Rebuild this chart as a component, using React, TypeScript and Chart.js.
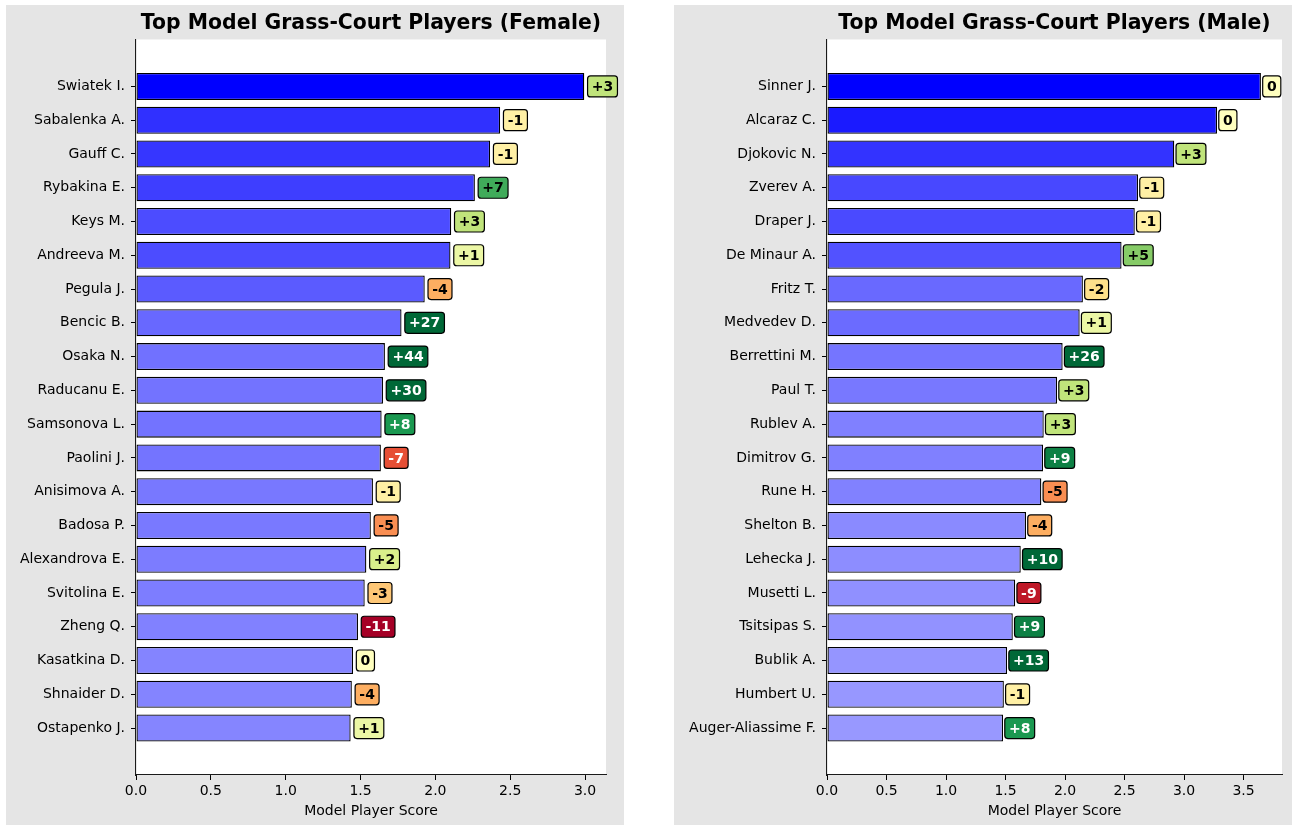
import React, { useEffect, useRef } from "react";
import { Chart, registerables } from "chart.js";

Chart.register(...registerables);

const FONT = '"DejaVu Sans", "Liberation Sans", sans-serif';

// ---------- data ----------
const FEMALE_PLAYERS = [
  "Swiatek I.", "Sabalenka A.", "Gauff C.", "Rybakina E.", "Keys M.",
  "Andreeva M.", "Pegula J.", "Bencic B.", "Osaka N.", "Raducanu E.",
  "Samsonova L.", "Paolini J.", "Anisimova A.", "Badosa P.", "Alexandrova E.",
  "Svitolina E.", "Zheng Q.", "Kasatkina D.", "Shnaider D.", "Ostapenko J.",
];
const FEMALE_SCORES = [
  2.995, 2.433, 2.366, 2.264, 2.106,
  2.101, 1.929, 1.774, 1.663, 1.650,
  1.641, 1.636, 1.583, 1.569, 1.539,
  1.528, 1.483, 1.450, 1.442, 1.434,
];
const FEMALE_CHANGES = [3, -1, -1, 7, 3, 1, -4, 27, 44, 30, 8, -7, -1, -5, 2, -3, -11, 0, -4, 1];

const MALE_PLAYERS = [
  "Sinner J.", "Alcaraz C.", "Djokovic N.", "Zverev A.", "Draper J.",
  "De Minaur A.", "Fritz T.", "Medvedev D.", "Berrettini M.", "Paul T.",
  "Rublev A.", "Dimitrov G.", "Rune H.", "Shelton B.", "Lehecka J.",
  "Musetti L.", "Tsitsipas S.", "Bublik A.", "Humbert U.", "Auger-Aliassime F.",
];
const MALE_SCORES = [
  3.646, 3.277, 2.918, 2.613, 2.586,
  2.475, 2.150, 2.123, 1.980, 1.933,
  1.821, 1.815, 1.801, 1.672, 1.628,
  1.581, 1.561, 1.513, 1.486, 1.479,
];
const MALE_CHANGES = [0, 0, 3, -1, -1, 5, -2, 1, 26, 3, 3, 9, -5, -4, 10, -9, 9, 13, -1, 8];

const FEMALE_X_TICKS = [0, 0.5, 1, 1.5, 2, 2.5, 3];
const MALE_X_TICKS = [0, 0.5, 1, 1.5, 2, 2.5, 3, 3.5];
const FEMALE_X_MAX = 3.14;
const MALE_X_MAX = 3.823;

const FEMALE_TITLE = "Top Model Grass-Court Players (Female)";
const MALE_TITLE = "Top Model Grass-Court Players (Male)";
const X_TITLE = "Model Player Score";

// ---------- styling helpers ----------
const RDYLGN = [
  "#a50026", "#d73027", "#f46d43", "#fdae61", "#fee08b", "#ffffbf",
  "#d9ef8b", "#a6d96a", "#66bd63", "#1a9850", "#006837",
];
function hexToRgb(h: string) {
  return [parseInt(h.slice(1, 3), 16), parseInt(h.slice(3, 5), 16), parseInt(h.slice(5, 7), 16)];
}
function rdylgn(t: number) {
  const c = Math.max(0, Math.min(1, t)) * (RDYLGN.length - 1);
  const i = Math.min(RDYLGN.length - 2, Math.floor(c));
  const f = c - i;
  const a = hexToRgb(RDYLGN[i]);
  const b = hexToRgb(RDYLGN[i + 1]);
  return [0, 1, 2].map((k) => Math.round(a[k] + (b[k] - a[k]) * f));
}
function barColor(v: number, maxV: number) {
  const c = Math.round(255 * (1 - v / maxV));
  return `rgb(${c},${c},255)`;
}

const bgPlugin = {
  id: "areaBg",
  beforeDraw(chart: any) {
    const { ctx, chartArea } = chart;
    ctx.save();
    ctx.fillStyle = "#ffffff";
    ctx.fillRect(chartArea.left, chartArea.top, chartArea.right - chartArea.left, chartArea.bottom - chartArea.top);
    ctx.restore();
  },
};

const badgePlugin = {
  id: "badges",
  afterDatasetsDraw(chart: any, _args: any, opts: any) {
    const { ctx } = chart;
    const meta = chart.getDatasetMeta(0);
    const xs = chart.scales.x;
    const changes: number[] = opts.changes;
    const scores: number[] = opts.scores;
    ctx.save();
    ctx.font = `bold 14px ${FONT}`;
    meta.data.forEach((el: any, i: number) => {
      const ch = changes[i];
      const text = ch > 0 ? `+${ch}` : `${ch}`;
      const tx = xs.getPixelForValue(scores[i] + 0.05);
      const cy = el.y;
      const tw = ctx.measureText(text).width;
      const pad = 4.2;
      const bh = 21;
      const bx = tx - pad;
      const by = cy - bh / 2;
      const bw = tw + 2 * pad;
      const rgb = rdylgn((ch + 10) / 20);
      const lum = (0.299 * rgb[0] + 0.587 * rgb[1] + 0.114 * rgb[2]) / 255;
      ctx.beginPath();
      ctx.roundRect(bx, by, bw, bh, 3);
      ctx.fillStyle = `rgb(${rgb[0]},${rgb[1]},${rgb[2]})`;
      ctx.fill();
      ctx.lineWidth = 1.2;
      ctx.strokeStyle = "#000";
      ctx.stroke();
      ctx.fillStyle = lum < 0.5 ? "#ffffff" : "#000000";
      ctx.textAlign = "left";
      ctx.textBaseline = "middle";
      ctx.fillText(text, tx, cy + 1);
    });
    ctx.restore();
  },
};

type PanelProps = {
  players: string[];
  scores: number[];
  changes: number[];
  xTicks: number[];
  xMax: number;
  title: string;
  yAxisWidth: number;
  rightPad: number;
  left: number;
};

function BarPanel(p: PanelProps) {
  const ref = useRef<HTMLCanvasElement | null>(null);
  useEffect(() => {
    if (!ref.current) return;
    const n = p.players.length;
    const maxV = Math.max(...p.scores);
    const chart = new Chart(ref.current, {
      type: "bar",
      data: {
        datasets: [
          {
            data: p.scores.map((v, i) => ({ x: v, y: i })),
            backgroundColor: p.scores.map((v) => barColor(v, maxV)),
            borderColor: "#000000",
            borderWidth: 1.3,
            borderSkipped: false,
            categoryPercentage: 1,
            barPercentage: 0.8,
          } as any,
        ],
      },
      options: {
        indexAxis: "y",
        animation: false,
        responsive: false,
        maintainAspectRatio: false,
        layout: { padding: { left: 0, right: p.rightPad, top: 0, bottom: 0 } },
        plugins: {
          legend: { display: false },
          tooltip: { enabled: false },
          title: {
            display: true,
            text: p.title,
            fullSize: false,
            color: "#000000",
            font: { family: FONT, size: 20.4, weight: "bold" },
            padding: { top: 6, bottom: 4 },
          },
          badges: { changes: p.changes, scores: p.scores },
        } as any,
        scales: {
          x: {
            type: "linear",
            min: 0,
            max: p.xMax,
            offset: false,
            afterBuildTicks: (s: any) => {
              s.ticks = p.xTicks.map((v) => ({ value: v }));
            },
            afterFit: (s: any) => {
              s.height = 50;
            },
            ticks: {
              callback: (v: any) => Number(v).toFixed(1),
              color: "#000000",
              font: { family: FONT, size: 14 },
              padding: 3,
              autoSkip: false,
              maxRotation: 0,
            },
            grid: { display: true, offset: false, drawOnChartArea: false, drawTicks: true, tickLength: 5, color: "#000000", lineWidth: 1 },
            border: { display: true, color: "#1a1a1a", width: 1.1 },
            title: {
              display: true,
              text: X_TITLE,
              color: "#000000",
              font: { family: FONT, size: 14 },
              padding: { top: 0, bottom: 5 },
            },
          } as any,
          y: {
            type: "linear",
            reverse: true,
            offset: false,
            min: -1.39,
            max: n - 1 + 1.39,
            afterBuildTicks: (s: any) => {
              s.ticks = p.players.map((_, i) => ({ value: i }));
            },
            afterFit: (s: any) => {
              s.width = p.yAxisWidth;
            },
            ticks: {
              callback: (v: any) => p.players[Math.round(Number(v))] ?? "",
              color: "#000000",
              font: { family: FONT, size: 14 },
              padding: 6,
              autoSkip: false,
            },
            grid: { display: true, offset: false, drawOnChartArea: false, drawTicks: true, tickLength: 5, color: "#000000", lineWidth: 1 },
            border: { display: true, color: "#1a1a1a", width: 1.1 },
          } as any,
        },
      },
      plugins: [bgPlugin, badgePlugin],
    } as any);
    return () => chart.destroy();
  }, []);
  return (
    <canvas
      ref={ref}
      width={618}
      height={820}
      style={{ position: "fixed", left: p.left, top: 5, width: 618, height: 820, background: "#e5e5e5" }}
    />
  );
}

export default function App() {
  return (
    <div>
      <BarPanel
        players={FEMALE_PLAYERS}
        scores={FEMALE_SCORES}
        changes={FEMALE_CHANGES}
        xTicks={FEMALE_X_TICKS}
        xMax={FEMALE_X_MAX}
        title={FEMALE_TITLE}
        yAxisWidth={130}
        rightPad={18}
        left={6}
      />
      <BarPanel
        players={MALE_PLAYERS}
        scores={MALE_SCORES}
        changes={MALE_CHANGES}
        xTicks={MALE_X_TICKS}
        xMax={MALE_X_MAX}
        title={MALE_TITLE}
        yAxisWidth={153}
        rightPad={10}
        left={674}
      />
    </div>
  );
}
